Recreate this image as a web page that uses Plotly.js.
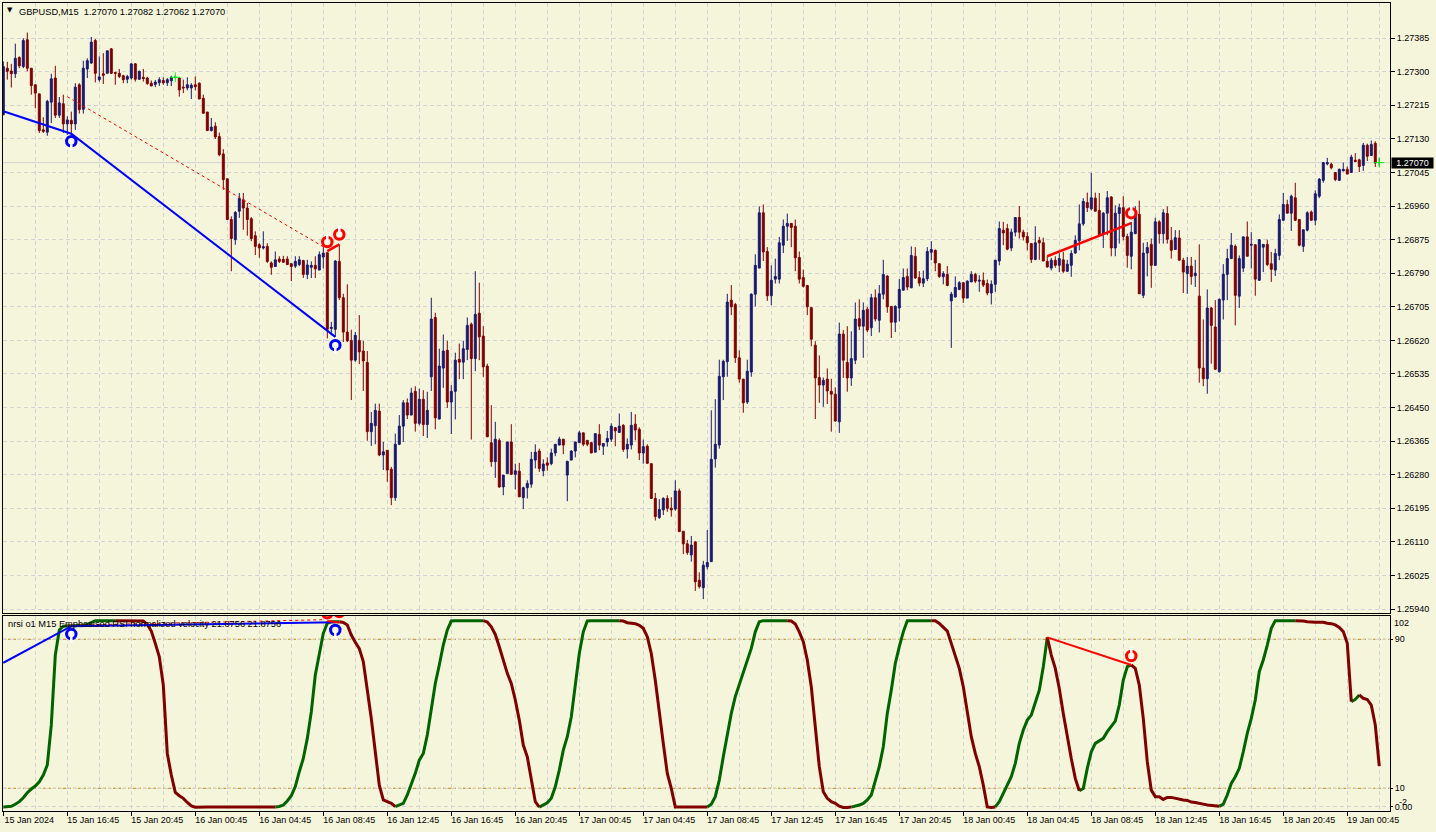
<!DOCTYPE html>
<html>
<head>
<meta charset="utf-8">
<script src="https://cdn.plot.ly/plotly-3.0.1.min.js"></script>
<style>html,body{margin:0;padding:0;background:#F5F5DC}#chart{width:1436px;height:832px}</style>
</head>
<body>
<div id="chart"></div>
<script>
// Prices in 1e-5 units (GBPUSD M15), one entry per bar
const opens = [
127191,127309,127302,127295,127336,127313,127381,127309,127267,127244,
127153,127147,127223,127284,127190,127219,127168,127177,127168,127267,
127205,127307,127322,127379,127280,127295,127296,127358,127298,127296,
127290,127281,127284,127320,127281,127286,127284,127271,127268,127272,
127278,127272,127277,127286,127284,127261,127259,127259,127267,127271,
127233,127198,127151,127162,127136,127092,127029,126926,126875,126947,
126976,126955,126928,126885,126862,126854,126858,126816,126807,126826,
126825,126826,126814,126808,126812,126822,126787,126805,126810,126798,
126831,126842,126650,126648,126820,126728,126641,126620,126570,126620,
126593,126564,126389,126404,126441,126330,126342,126294,126222,126357,
126403,126462,126431,126491,126410,126471,126407,126528,126678,126421,
126550,126595,126464,126491,126572,126565,126597,126661,126574,126689,
126631,126555,126361,126313,126367,126249,126283,126363,126281,126289,
126222,126247,126256,126317,126340,126290,126310,126308,126335,126355,
126370,126279,126317,126340,126361,126386,126367,126361,126337,126382,
126352,126363,126370,126399,126387,126405,126345,126355,126408,126395,
126335,126352,126308,126220,126172,126191,126220,126195,126193,126239,
126137,126105,126077,126110,126013,125994,126047,126060,126320,126355,
126528,126566,126722,126711,126576,126522,126464,126540,126737,126803,
126943,126845,126733,126775,126775,126861,126909,126916,126909,126830,
126779,126759,126703,126608,126526,126507,126522,126491,126484,126414,
126636,126564,126525,126570,126675,126656,126699,126652,126728,126671,
126737,126783,126706,126666,126702,126747,126782,126753,126833,126779,
126765,126776,126843,126848,126814,126781,126787,126720,126730,126749,
126766,126727,126768,126787,126770,126772,126764,126740,126762,126821,
126899,126903,126854,126894,126931,126894,126883,126865,126825,126873,
126867,126820,126803,126823,126810,126824,126795,126810,126841,126872,
126915,126969,126953,126980,126949,126888,126942,126983,126854,126941,
126956,126883,126833,126890,126939,126734,126841,126863,126810,126920,
126890,126941,126873,126850,126879,126823,126789,126808,126784,126732,
126550,126523,126702,126654,126541,126722,126787,126827,126858,126732,
126803,126882,126861,126862,126772,126856,126863,126814,126798,126835,
126924,126964,126942,126981,126926,126858,126899,126945,126924,126985,
127025,127067,127066,127045,127025,127049,127053,127045,127076,127077,
127063,127114,127088,127119,127070];
const closes = [
127313,127301,127295,127334,127315,127379,127309,127265,127246,127151,
127149,127225,127282,127190,127221,127168,127178,127168,127261,127204,
127309,127328,127375,127296,127287,127291,127353,127296,127296,127288,
127280,127288,127320,127281,127301,127283,127270,127264,127274,127280,
127272,127280,127286,127286,127254,127259,127267,127266,127262,127231,
127195,127151,127160,127135,127090,127027,126926,126878,126944,126979,
126955,126926,126878,126858,126854,126857,126820,126805,126824,126820,
126818,126812,126807,126820,126824,126787,126811,126810,126801,126837,
126841,126648,126653,126821,126728,126641,126619,126570,126633,126591,
126568,126389,126410,126443,126330,126338,126292,126222,126357,126403,
126462,126431,126487,126410,126471,126407,126443,126674,126424,126555,
126593,126464,126491,126570,126565,126599,126658,126574,126686,126629,
126553,126376,126313,126370,126249,126279,126363,126281,126290,126224,
126247,126258,126319,126337,126296,126307,126304,126335,126357,126370,
126355,126314,126340,126363,126386,126357,126357,126335,126384,126355,
126359,126372,126403,126391,126403,126344,126357,126405,126393,126335,
126351,126309,126220,126174,126192,126220,126195,126191,126239,126136,
126105,126083,126102,126009,125997,126051,126058,126319,126357,126529,
126567,126717,126705,126576,126522,126462,126542,126737,126810,126943,
126844,126733,126772,126782,126867,126909,126916,126906,126829,126775,
126757,126705,126623,126525,126507,126519,126492,126484,126416,126636,
126570,126525,126574,126674,126656,126696,126646,126728,126674,126738,
126787,126705,126666,126706,126749,126779,126755,126835,126778,126765,
126776,126845,126850,126816,126782,126789,126759,126737,126754,126766,
126727,126770,126787,126770,126772,126760,126740,126762,126823,126903,
126892,126851,126894,126931,126894,126882,126867,126825,126867,126867,
126821,126806,126823,126810,126827,126795,126813,126840,126873,126915,
126972,126956,126981,126947,126888,126942,126981,126854,126942,126956,
126883,126835,126894,126937,126738,126841,126855,126810,126920,126890,
126943,126876,126848,126880,126823,126793,126808,126782,126790,126550,
126523,126702,126658,126547,126724,126787,126827,126861,126734,126827,
126882,126833,126863,126775,126875,126863,126812,126800,126840,126926,
126964,126942,126985,126924,126861,126900,126943,126924,126991,127028,
127070,127070,127057,127027,127053,127053,127041,127084,127073,127060,
127114,127086,127116,127069,127070];
const highs = [
127326,127325,127320,127371,127339,127385,127399,127309,127267,127244,
127185,127229,127295,127315,127236,127242,127187,127199,127271,127271,
127328,127334,127388,127383,127339,127347,127353,127360,127300,127307,
127292,127292,127320,127322,127303,127307,127287,127278,127279,127286,
127286,127284,127290,127290,127286,127280,127286,127271,127288,127273,
127242,127198,127183,127172,127146,127104,127029,126934,126947,126993,
126993,126968,126932,126896,126866,126896,126866,126820,126845,126833,
126834,126833,126816,126833,126833,126824,126824,126820,126833,126845,
126856,126844,126667,126823,126863,126738,126762,126647,126641,126684,
126619,126593,126439,126460,126460,126363,126342,126300,126384,126431,
126469,126473,126500,126504,126498,126494,126490,126728,126690,126599,
126635,126619,126507,126589,126612,126619,126678,126665,126795,126766,
126656,126561,126456,126414,126372,126279,126363,126408,126308,126310,
126250,126266,126338,126357,126346,126319,126324,126346,126357,126376,
126370,126315,126342,126363,126391,126386,126367,126363,126384,126408,
126359,126391,126410,126401,126435,126408,126372,126439,126433,126400,
126369,126357,126308,126234,126218,126223,126228,126223,126266,126245,
126137,126115,126125,126112,126033,126062,126140,126443,126471,126571,
126571,126738,126760,126715,126595,126522,126571,126739,126838,126959,
126964,126856,126810,126827,126882,126926,126941,126916,126926,126845,
126799,126759,126703,126618,126582,126526,126549,126523,126501,126665,
126646,126656,126643,126716,126724,126716,126705,126738,126749,126760,
126824,126785,126706,126709,126775,126802,126802,126858,126856,126795,
126797,126856,126871,126850,126816,126795,126808,126743,126782,126770,
126768,126772,126795,126791,126785,126792,126774,126772,126824,126921,
126920,126915,126903,126931,126960,126900,126894,126865,126909,126882,
126880,126833,126829,126833,126841,126844,126824,126848,126886,126964,
126980,126994,127044,126994,126993,126945,126998,126985,126962,126966,
126985,126890,126920,126960,126974,126867,126869,126878,126931,126924,
126952,126959,126907,126899,126899,126829,126831,126831,126824,126863,
126673,126749,126705,126722,126726,126813,126852,126892,126863,126835,
126883,126921,126894,126863,126875,126863,126875,126844,126852,126939,
126993,126976,126989,127019,126926,126900,126947,126949,127000,127031,
127070,127082,127070,127046,127055,127070,127060,127090,127094,127080,
127120,127118,127126,127124,127082];
const lows = [
127191,127280,127260,127284,127309,127309,127301,127242,127208,127145,
127145,127138,127170,127183,127183,127145,127140,127140,127153,127194,
127194,127284,127320,127273,127275,127269,127296,127295,127267,127284,
127271,127271,127280,127275,127280,127275,127267,127264,127261,127264,
127267,127264,127264,127282,127237,127246,127253,127231,127253,127231,
127194,127151,127149,127130,127086,127001,126926,126795,126862,126930,
126900,126885,126871,126836,126829,126850,126816,126786,126807,126816,
126816,126812,126770,126803,126808,126778,126775,126778,126778,126798,
126802,126625,126633,126629,126722,126616,126616,126469,126566,126560,
126492,126366,126353,126357,126327,126292,126262,126203,126214,126355,
126363,126421,126431,126389,126405,126378,126373,126492,126395,126420,
126500,126449,126383,126420,126522,126522,126570,126369,126542,126570,
126528,126376,126300,126272,126247,126228,126283,126279,126243,126224,
126193,126220,126247,126296,126287,126276,126290,126304,126327,126355,
126332,126213,126317,126324,126361,126352,126352,126335,126337,126342,
126330,126351,126363,126352,126387,126338,126321,126344,126367,126317,
126308,126307,126220,126164,126168,126178,126186,126174,126189,126136,
126079,126077,126060,125986,125992,125965,126040,126060,126298,126346,
126469,126528,126684,126563,126513,126437,126459,126528,126706,126803,
126821,126720,126709,126764,126764,126841,126872,126856,126795,126764,
126754,126684,126605,126421,126462,126452,126459,126389,126414,126386,
126525,126490,126505,126560,126646,126576,126641,126631,126668,126640,
126724,126690,126626,126641,126668,126747,126747,126753,126776,126757,
126755,126770,126823,126795,126778,126762,126757,126601,126728,126747,
126715,126727,126768,126765,126743,126755,126734,126711,126743,126810,
126861,126848,126846,126883,126878,126873,126848,126816,126823,126824,
126821,126804,126797,126804,126793,126791,126793,126781,126840,126848,
126910,126945,126949,126947,126883,126854,126886,126833,126833,126865,
126873,126804,126800,126890,126738,126727,126782,126753,126808,126865,
126865,126865,126827,126850,126823,126740,126738,126761,126755,126513,
126504,126485,126561,126545,126538,126673,126722,126827,126658,126702,
126793,126833,126802,126733,126772,126793,126808,126768,126783,126823,
126924,126942,126897,126922,126858,126844,126896,126924,126911,126980,
127019,127063,127053,127023,127025,127049,127041,127045,127071,127046,
127049,127074,127088,127059,127062];
// Emphasised RSI normalized velocity, one entry per bar
const rsiValues = [
0,.3,.3,1.4,2.8,4.9,7.6,9.6,11.2,13.5,
17.1,22.5,44,81.5,95,97,97.3,97.3,97.3,97.3,
97.7,98,99,100,100,100,100,100,100,100,
100,100,100,100,100,99.8,98,94.4,87.8,80.6,
65.4,28.7,17.1,7.8,6,4.6,2.4,.5,-.2,0,
0,0,0,0,0,0,0,0,0,0,
0,0,0,0,0,0,0,0,0,.2,
1,3.2,6,10.9,18.9,26,36.8,51,70.8,82.4,
93.2,98.6,99.4,99.4,99.4,99,97.7,92.3,88.4,85,
78,63.7,47.5,29.6,11.7,3.7,2.8,1.9,.1,1,
1.9,6.4,11.7,18,25.1,28.7,38.6,53.8,66.3,76.2,
86.9,95,99.8,100,100,100,100,100,100,100,
100,99.3,96.7,92.6,86,78.9,71.7,66.3,57.4,46.6,
33.2,26.9,14.4,2.8,-.1,1,2.2,4.6,10.8,19.8,
30.5,37.7,48.4,65.4,82.4,94,99.8,100,100,100,
100,100,100,100,100,99.8,98.9,98.5,98.4,97.5,
95.9,91.4,82.4,68,50.2,34.1,18,9.9,0,0,
0,0,0,0,0,0,0,1.5,5.5,14.4,
26.9,39.5,50.2,59.2,65.4,71.7,78.9,85.1,94,99.4,
100,100,100,100,100,100,100,99.8,98.2,94,
88.7,78.9,64.5,44.8,21.6,8.1,4.6,2.8,1.9,.4,
-.3,-.3,-.1,.4,1,1.9,3.7,6.4,13.5,21.6,
32.3,50.2,62.7,77,86,94,100,100,100,100,
100,100,100,100,98.5,96.7,94.4,87.8,81.5,74.4,
64.5,52,37.7,28.7,21.6,11.7,0,-.3,0,2.8,
7.3,11.7,16.2,23.4,34.1,41.3,46.6,49.3,56.5,62.7,
75.3,91,81.5,74.4,63.6,50.2,37.7,26,15.3,8.7,
9.9,20.7,29.6,34.1,35.4,36.8,40.4,43,46.1,54.7,
68.1,75.3,76.2,74.4,65.4,47.5,24.3,9,5.5,5.5,
4,5.1,5.1,4.6,4,3.7,3.5,2.6,2.4,2.1,
1.5,1,.8,.8,.3,1.5,6.4,12.6,16.2,20.7,
29.6,39.5,47.5,57.4,72.6,78.9,86.9,95.9,100,100,
100,100,100,100,100,99.8,99.4,99.1,99.1,99.1,
99.1,98.6,98.4,97.7,96.4,94.1,87.8,56.5,57.7,60.1,
58.3,57.7,54.7,44,21.88];
// Bars where the RSI line changes colour (starts green)
const rsiColorBreaks = [0,28,68,84,98,120,134,154,176,196,212,232,248,261,269,282,304,323,337,339,344];

const timeLabels = ["15 Jan 2024","15 Jan 16:45","15 Jan 20:45","16 Jan 00:45","16 Jan 04:45","16 Jan 08:45","16 Jan 12:45","16 Jan 16:45","16 Jan 20:45","17 Jan 00:45","17 Jan 04:45","17 Jan 08:45","17 Jan 12:45","17 Jan 16:45","17 Jan 20:45","18 Jan 00:45","18 Jan 04:45","18 Jan 08:45","18 Jan 12:45","18 Jan 16:45","18 Jan 20:45","19 Jan 00:45"];
const priceTicks = [1.27385,1.27300,1.27215,1.27130,1.27045,1.26960,1.26875,1.26790,1.26705,1.26620,1.26535,1.26450,1.26365,1.26280,1.26195,1.26110,1.26025,1.25940];
const rsiTicks = [90,10,0];
const rsiTickText = ["90","10","0.00"];

// Divergence lines and signals
const blueLineX = [0,17,83], blueLineP = [1.27200,1.27143,1.26629], blueLineR = [77.4,97,99.1];
const redDashX = [16,80], redDashP = [1.27237,1.26857], redDashR = [97.5,100.5];
const redLineAX = [81,84], redLineAP = [1.26846,1.26863], redLineAR = [99.8,99];
const redLineBX = [261,282], redLineBP = [1.26833,1.26917], redLineBR = [91,76.2];
const blueSignalX = [17,83], blueSignalP = [1.27124,1.26608], blueSignalR = [92.8,95];
const redSignalX = [81,84,282], redSignalP = [1.26869,1.26888,1.26942], redSignalR = [104,104.6,81];
const dojiX = [43,344], dojiP = [1.27286,1.27070];

const barIndex = opens.map((_, i) => i);
const px = a => a.map(v => v / 1e5);
const GRID = '#D3D3D3', BG = '#F5F5DC', TXT = '#000000', GRID_DASH = '4px,3px';
const FONT = 'Liberation Sans, Arial, sans-serif';

// split RSI into coloured runs
const rsiGreen = rsiValues.map(() => null), rsiMaroon = rsiValues.map(() => null);
for (let s = 0; s < rsiColorBreaks.length - 1; s++) {
  const target = s % 2 === 0 ? rsiGreen : rsiMaroon;
  for (let i = rsiColorBreaks[s]; i <= rsiColorBreaks[s + 1]; i++) target[i] = rsiValues[i];
}

const line = (x, y, yaxis, color, width, dash) => ({
  type: 'scatter', mode: 'lines', x, y, xaxis: yaxis === 'y' ? 'x' : 'x2', yaxis,
  line: { color, width, dash: dash || 'solid' }, hoverinfo: 'skip', showlegend: false
});
// horseshoe signal: a ring with a gap cut out on its open side
const ring = (x, y, yaxis, color) => ({
  type: 'scatter', mode: 'markers', x, y, xaxis: yaxis === 'y' ? 'x' : 'x2', yaxis,
  marker: { symbol: 'circle-open', size: 9.5, color, line: { color, width: 3 } },
  hoverinfo: 'skip', showlegend: false
});
const gap = (x, y, offset, yaxis) => ({
  type: 'scatter', mode: 'markers', x, y: y.map(v => v + offset), xaxis: yaxis === 'y' ? 'x' : 'x2', yaxis,
  marker: { symbol: 'line-ns', size: 8, color: '#FFFFFF', line: { color: '#FFFFFF', width: 2.5 } },
  hoverinfo: 'skip', showlegend: false
});
const GAP_P = 0.00008, GAP_R = 1.7;

const traces = [
  {
    type: 'candlestick', x: barIndex, open: px(opens), high: px(highs), low: px(lows), close: px(closes),
    xaxis: 'x', yaxis: 'y', whiskerwidth: 0,
    increasing: { line: { color: '#191970', width: 1 }, fillcolor: '#191970' },
    decreasing: { line: { color: '#800000', width: 1 }, fillcolor: '#800000' },
    hoverinfo: 'skip', showlegend: false
  },
  {
    type: 'scatter', mode: 'markers', x: dojiX, y: dojiP, xaxis: 'x', yaxis: 'y',
    marker: { symbol: 'cross-thin', size: 7, color: '#00FF00', line: { color: '#00FF00', width: 1 } },
    hoverinfo: 'skip', showlegend: false
  },
  line(redDashX, redDashP, 'y', '#FF0000', 1, '3px,3px'),
  line(blueLineX, blueLineP, 'y', '#0000FF', 2),
  line(redLineAX, redLineAP, 'y', '#FF0000', 2.5),
  line(redLineBX, redLineBP, 'y', '#FF0000', 2.5),
  ring(blueSignalX, blueSignalP, 'y', '#0000FF'),
  gap(blueSignalX, blueSignalP, -GAP_P, 'y'),
  ring(redSignalX, redSignalP, 'y', '#FF0000'),
  gap(redSignalX, redSignalP, GAP_P, 'y'),
  line(barIndex, rsiGreen, 'y2', '#006400', 3),
  line(barIndex, rsiMaroon, 'y2', '#800000', 3),
  line(redDashX, redDashR, 'y2', '#FF0000', 1, '3px,3px'),
  line(blueLineX, blueLineR, 'y2', '#0000FF', 2),
  line(redLineAX, redLineAR, 'y2', '#FF0000', 2),
  line(redLineBX, redLineBR, 'y2', '#FF0000', 2),
  ring(blueSignalX, blueSignalR, 'y2', '#0000FF'),
  gap(blueSignalX, blueSignalR, -GAP_R, 'y2'),
  ring(redSignalX, redSignalR, 'y2', '#FF0000'),
  gap(redSignalX, redSignalR, GAP_R, 'y2')
];

const labelBars = timeLabels.map((_, i) => i * 16);
const gridBars = timeLabels.map((_, i) => i * 16 + 8);
const xBase = {
  range: [-0.075, 346.68], showline: true, mirror: true, linecolor: '#000', linewidth: 1, zeroline: false,
  tickmode: 'array', tickvals: labelBars, showgrid: true, gridcolor: GRID, griddash: GRID_DASH, gridwidth: 1,
  minor: { tickmode: 'array', tickvals: gridBars, showgrid: true, gridcolor: GRID, griddash: GRID_DASH, gridwidth: 1, ticks: '' },
  rangeslider: { visible: false }, fixedrange: true
};
const yBase = {
  side: 'right', showline: true, mirror: true, linecolor: '#000', linewidth: 1, zeroline: false,
  ticks: 'outside', tickcolor: '#000', showgrid: true, gridcolor: GRID, griddash: GRID_DASH, gridwidth: 1,
  tickmode: 'array', tickfont: { family: FONT, size: 9, color: TXT }, fixedrange: true
};

const layout = {
  width: 1436, height: 832, paper_bgcolor: BG, plot_bgcolor: BG,
  margin: { l: 3, r: 46, t: 3, b: 21, pad: 0 }, showlegend: false, hovermode: false,
  font: { family: FONT, size: 9, color: TXT },
  xaxis: Object.assign({}, xBase, { domain: [0, 1], anchor: 'y', showticklabels: false, ticks: '' }),
  yaxis: Object.assign({}, yBase, {
    domain: [0.24505, 1], anchor: 'x', range: [1.25930, 1.27474], ticklen: 4,
    tickvals: priceTicks, ticktext: priceTicks.map(v => v.toFixed(5))
  }),
  xaxis2: Object.assign({}, xBase, {
    domain: [0, 1], anchor: 'y2', ticks: 'outside', ticklen: 4, tickcolor: '#000',
    ticktext: timeLabels, ticklabelshift: 26, ticklabelstandoff: -4,
    tickfont: { family: FONT, size: 9, color: TXT }
  }),
  yaxis2: Object.assign({}, yBase, {
    domain: [0, 0.24134], anchor: 'x2', range: [-2.2, 102.5], ticklen: 2,
    tickvals: rsiTicks, ticktext: rsiTickText
  }),
  shapes: [
    { type: 'line', xref: 'paper', x0: 0, x1: 1, yref: 'y', y0: 1.27070, y1: 1.27070, line: { color: GRID, width: 1 }, layer: 'below' },
    { type: 'line', xref: 'paper', x0: 0, x1: 1, yref: 'y2', y0: 90, y1: 90, line: { color: '#C08A00', width: 1, dash: '3px,2px' }, layer: 'below' },
    { type: 'line', xref: 'paper', x0: 0, x1: 1, yref: 'y2', y0: 10, y1: 10, line: { color: '#C08A00', width: 1, dash: '3px,2px' }, layer: 'below' }
  ],
  annotations: [
    { xref: 'paper', yref: 'paper', x: 0.0015, y: 0.991, xanchor: 'left', yanchor: 'middle', showarrow: false, text: '▼', font: { family: 'DejaVu Sans', size: 7, color: '#000' } },
    { xref: 'paper', yref: 'paper', x: 0.0100, y: 0.9893, xanchor: 'left', yanchor: 'middle', showarrow: false, text: 'GBPUSD,M15  1.27070 1.27082 1.27062 1.27070', font: { family: FONT, size: 9.25, color: '#000' } },
    { xref: 'paper', yref: 'paper', x: 0.0025, y: 0.2313, xanchor: 'left', yanchor: 'middle', showarrow: false, text: 'nrsi o1 M15 Emphasised RSI normalized velocity 21.8756 21.8756', font: { family: FONT, size: 9.25, color: '#000' } },
    { xref: 'paper', yref: 'y', x: 1, y: 1.27070, xshift: 1, xanchor: 'left', yanchor: 'middle', showarrow: false, text: '1.27070', width: 41, height: 10, align: 'center', bgcolor: '#000', borderpad: 0, font: { family: FONT, size: 9, color: '#FFF' } },
    { xref: 'paper', yref: 'y2', x: 1, y: 99, xshift: 2, xanchor: 'left', yanchor: 'middle', showarrow: false, text: '102', font: { family: FONT, size: 9, color: '#000' } },
    { xref: 'paper', yref: 'y2', x: 1, y: 2.6, xshift: 7, xanchor: 'left', yanchor: 'middle', showarrow: false, text: '-2', font: { family: FONT, size: 9, color: '#000' } }
  ]
};
Plotly.newPlot('chart', traces, layout, { displayModeBar: false, staticPlot: true });
</script>
</body>
</html>
